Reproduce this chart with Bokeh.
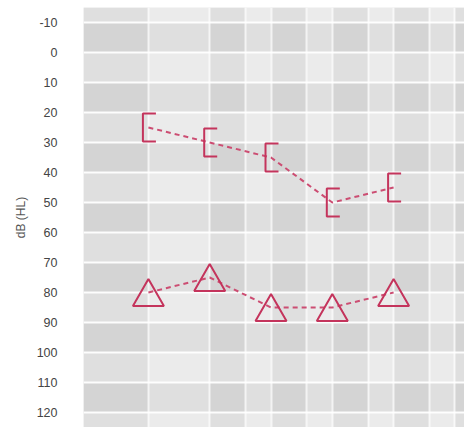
from bokeh.plotting import figure
from bokeh.models import Range1d, FixedTicker, ColumnDataSource
from bokeh.transform import dodge
from bokeh.embed import file_html
from bokeh.resources import INLINE

# ---- data ----
freqs = [250, 500, 1000, 2000, 4000]
bc_db = [25, 30, 35, 50, 45]      # bracket markers
ac_db = [80, 75, 85, 85, 80]      # triangle markers
grid_freqs = [250, 500, 750, 1000, 1500, 2000, 3000, 4000, 6000, 8000]
db_ticks = [-10, 0, 10, 20, 30, 40, 50, 60, 70, 80, 90, 100, 110, 120]
y_label = "dB (HL)"

# ---- layout constants ----
PX_OCT = 61.3
PX_DB = 3.0
x_start, x_end = 120.0, 8917.0
y_top, y_bottom = -15.0, 125.0
RED = "#c4345c"
LINE_RED = "#cc4d72"

p = figure(width=464, height=427, x_axis_type="log",
           x_range=Range1d(x_start, x_end), y_range=Range1d(y_bottom, y_top),
           output_backend="svg", toolbar_location=None, x_axis_location=None,
           min_border_left=83, min_border_right=0, min_border_top=7, min_border_bottom=0)
p.background_fill_color = "#ebebeb"
p.border_fill_color = "white"
p.outline_line_color = None

# bands
dark_rows = db_ticks[0:13:2]
p.quad(left=[x_start] * len(dark_rows), right=[x_end] * len(dark_rows),
       top=dark_rows, bottom=[d + 10 for d in dark_rows],
       fill_color="black", fill_alpha=0.047, line_color=None, level="image")
edges = [x_start] + grid_freqs + [x_end]
dl = edges[0:-1:2]
dr = edges[1::2]
p.quad(left=dl, right=dr, top=[y_top] * len(dl), bottom=[y_bottom] * len(dl),
       fill_color="black", fill_alpha=0.047, line_color=None, level="image")

# grid
p.xgrid.ticker = FixedTicker(ticks=grid_freqs)
p.ygrid.ticker = FixedTicker(ticks=db_ticks)
p.grid.grid_line_color = "white"
p.grid.grid_line_width = 2
p.ygrid.grid_line_alpha = 0.95
p.xgrid.grid_line_alpha = 0.7

# axis
ax = p.yaxis[0]
ax.ticker = FixedTicker(ticks=db_ticks)
ax.axis_line_color = None
ax.major_tick_line_color = None
ax.minor_tick_line_color = None
ax.major_tick_out = 0
ax.major_label_text_font = "Liberation Sans"
ax.major_label_text_font_size = "12.5px"
ax.major_label_text_color = "#444444"
ax.major_label_text_align = "left"
ax.major_label_standoff = 26
ax.major_label_overrides = {-10: "-10"}
ax.axis_label = y_label
ax.axis_label_text_font = "Liberation Sans"
ax.axis_label_text_font_size = "12px"
ax.axis_label_text_font_style = "normal"
ax.axis_label_text_color = "#555555"
ax.axis_label_standoff = 6

src = ColumnDataSource(dict(freq=freqs, bc=bc_db, ac=ac_db))

# dashed connecting lines
p.line("freq", "bc", source=src, line_color=LINE_RED, line_width=2, line_dash="5 4")
p.line("freq", "ac", source=src, line_color=LINE_RED, line_width=2, line_dash="5 4")

# bracket markers
half = 14 / PX_DB
xs, ys = [], []
for f, d in zip(freqs, bc_db):
    xl = f * 2 ** (-5.5 / PX_OCT)
    xr = f * 2 ** (7.5 / PX_OCT)
    xs.append([xr, xl, xl, xr])
    ys.append([d - half, d - half, d + half, d + half])
p.multi_line(xs, ys, line_color=RED, line_width=2)

# triangle markers (anchor shifted so the box centre sits on the value)
p.scatter("freq", dodge("ac", 1.5), source=src, marker="triangle", size=31,
          fill_color=None, line_color=RED, line_width=2)

open("out.html", "w").write(file_html(p, INLINE))
